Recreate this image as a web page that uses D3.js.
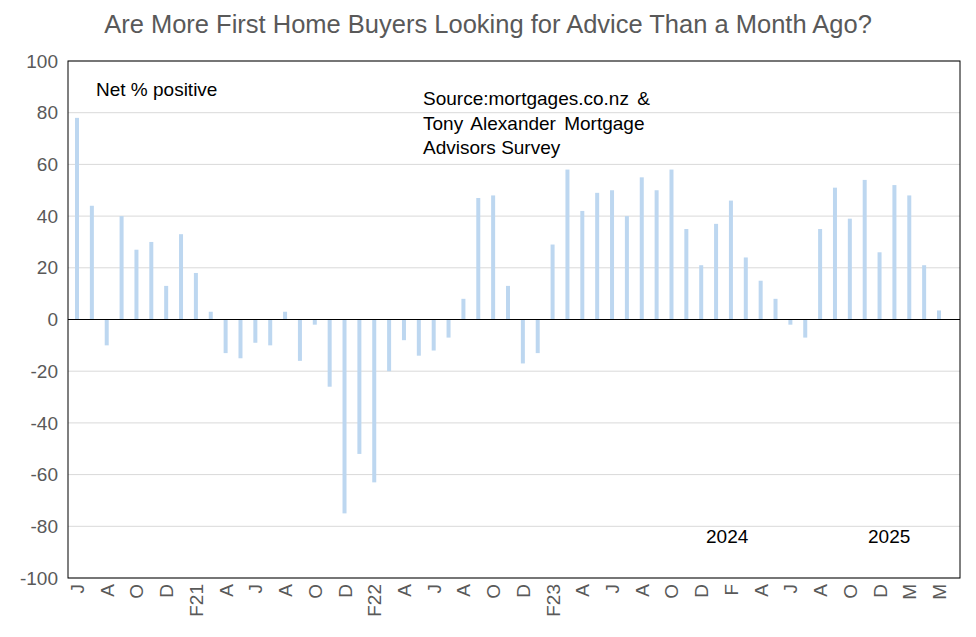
<!DOCTYPE html>
<html><head><meta charset="utf-8">
<script src="https://cdn.jsdelivr.net/npm/d3@7"></script>
<style>body{margin:0;background:#fff}</style>
</head><body><div id="chart"></div>
<script>
// DATA //
let values = [78,44,-10,40,27,30,13,33,18,3,-13,-15,-9,-10,3,-16,-2,-26,-75,-52,-63,-20,-8,-14,-12,-7,8,47,48,13,-17,-13,29,58,42,49,50,40,55,50,58,35,21,37,46,24,15,8,-2,-7,35,51,39,54,26,52,48,21,3.5];
let tickLabels = ['J','A','O','D','F21','A','J','A','O','D','F22','A','J','A','O','D','F23','A','J','A','O','D','F','A','J','A','O','D','M','M'];
let yTicks = [-100,-80,-60,-40,-20,0,20,40,60,80,100];

// SVG SETUP //
let svgWidth = 976, svgHeight = 637;
let margin = {top: 61, bottom: 59, left: 68, right: 16};
let width = svgWidth - margin.left - margin.right;
let height = svgHeight - margin.top - margin.bottom;

let svg = d3.select('#chart').append('svg')
    .attr('width', svgWidth).attr('height', svgHeight)
    .style('font-family', 'Arial, Liberation Sans, sans-serif');

let g = svg.append('g').attr('transform', `translate(${margin.left}, ${margin.top})`);

// bar centres
let x = d3.scaleLinear().domain([0, values.length - 1]).range([9, 871]);
let barW = 4;
let y = d3.scaleLinear().domain([-100, 100]).range([height, 0]);

// gridlines
g.selectAll('.grid').data(yTicks).enter().append('line')
    .attr('x1', 0).attr('x2', width)
    .attr('y1', d => y(d)).attr('y2', d => y(d))
    .attr('stroke', '#d9d9d9');

// bars
g.selectAll('.bar').data(values).enter().append('rect')
    .attr('x', (d, i) => x(i) - barW / 2)
    .attr('width', barW)
    .attr('y', d => y(Math.max(0, d)))
    .attr('height', d => Math.abs(y(d) - y(0)))
    .attr('fill', '#bdd7f0');

// frame
g.append('rect').attr('width', width).attr('height', height)
    .attr('fill', 'none').attr('stroke', '#000').attr('stroke-width', 1);
g.append('line').attr('x1', 0).attr('x2', width).attr('y1', y(0)).attr('y2', y(0)).attr('stroke', '#000');

// y axis labels
g.selectAll('.yl').data(yTicks).enter().append('text')
    .attr('x', -10).attr('y', d => y(d)).attr('dy', '0.35em')
    .attr('text-anchor', 'end').attr('font-size', 19).attr('fill', '#595959')
    .text(d => d);

// x labels
g.selectAll('.xl').data(tickLabels).enter().append('text')
    .attr('transform', (d, i) => `translate(${x(i * 2) + 7}, ${height + 6}) rotate(-90)`)
    .attr('text-anchor', 'end').attr('font-size', 19).attr('fill', '#595959')
    .text(d => d);

// title and annotations
svg.append('text').attr('x', 488).attr('y', 33).attr('text-anchor', 'middle')
    .attr('font-size', 25.5).attr('fill', '#595959')
    .text('Are More First Home Buyers Looking for Advice Than a Month Ago?');
svg.append('text').attr('x', 96).attr('y', 96).attr('font-size', 19).text('Net % positive');
let src = svg.append('text').attr('x', 423).attr('font-size', 19);
src.append('tspan').attr('x', 423).attr('y', 105).attr('word-spacing', 3).text('Source:mortgages.co.nz  &');
src.append('tspan').attr('x', 423).attr('y', 130).attr('word-spacing', 3).text('Tony Alexander  Mortgage');
src.append('tspan').attr('x', 423).attr('y', 154).text('Advisors Survey');
svg.append('text').attr('x', 706).attr('y', 543).attr('font-size', 19).text('2024');
svg.append('text').attr('x', 868).attr('y', 543).attr('font-size', 19).text('2025');
</script></body></html>
